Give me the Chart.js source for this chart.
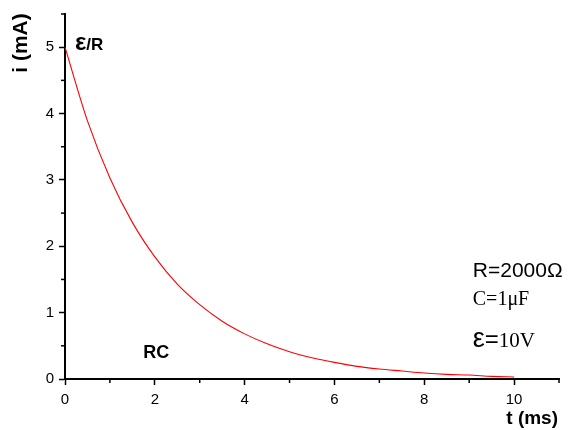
<!DOCTYPE html>
<html>
<head>
<meta charset="utf-8">
<script src="https://cdn.jsdelivr.net/npm/chart.js@4"></script>
<style>
  body { margin: 0; background: #fff; }
  canvas { display: block; }
</style>
</head>
<body>
<canvas id="chart" width="569" height="430"></canvas>
<script>
// time in ms, current in mA
const timeMs = [0, 0.5, 1, 1.5, 2, 2.5, 3, 3.5, 4, 4.5, 5, 5.5, 6, 6.5, 7, 7.5, 8, 8.5, 9, 9.5, 10];
const currentMa = [5.00, 3.89, 3.03, 2.36, 1.84, 1.43, 1.12, 0.87, 0.68, 0.53, 0.41, 0.32, 0.25, 0.19, 0.15, 0.12, 0.09, 0.07, 0.06, 0.04, 0.03];

const xTickLabels = ['0', '2', '4', '6', '8', '10'];
const yTickLabels = ['0', '1', '2', '3', '4', '5'];

const SANS = '"Liberation Sans", Arial, sans-serif';
const SERIF = '"Liberation Serif", "Times New Roman", serif';

// short ticks for the minor steps
const minorTicks = {
    id: 'minorTicks',
    afterDraw(chart) {
        const ctx = chart.ctx;
        const xs = chart.scales.x, ys = chart.scales.y;
        ctx.save();
        ctx.strokeStyle = '#000';
        ctx.lineWidth = 1.5;
        xs.ticks.forEach(t => {
            if (xTickLabels.includes(String(t.value))) return;
            const px = xs.getPixelForValue(t.value);
            ctx.beginPath();
            ctx.moveTo(px, ys.bottom);
            ctx.lineTo(px, ys.bottom + 4);
            ctx.stroke();
        });
        ys.ticks.forEach(t => {
            if (yTickLabels.includes(String(t.value))) return;
            const py = ys.getPixelForValue(t.value);
            ctx.beginPath();
            ctx.moveTo(xs.left, py);
            ctx.lineTo(xs.left - 4, py);
            ctx.stroke();
        });
        ctx.restore();
    }
};

// text pieces: [text, font]
function drawPieces(ctx, x, y, pieces) {
    let cx = x;
    pieces.forEach(p => {
        ctx.font = p[1];
        ctx.fillText(p[0], cx, y);
        cx += ctx.measureText(p[0]).width;
    });
}

const labels = {
    id: 'labels',
    afterDraw(chart) {
        const ctx = chart.ctx;
        const xs = chart.scales.x, ys = chart.scales.y;
        const X = v => xs.getPixelForValue(v);
        const Y = v => ys.getPixelForValue(v);
        ctx.save();
        ctx.fillStyle = '#000';
        ctx.textBaseline = 'alphabetic';

        ctx.textAlign = 'left';
        drawPieces(ctx, X(0.22), Y(4.96), [
            ['ε', 'bold 24px ' + SANS],
            ['/R', 'bold 17px ' + SANS]
        ]);

        ctx.textAlign = 'center';
        ctx.font = 'bold 18px ' + SANS;
        ctx.fillText('RC', X(2.03), Y(0.31));

        ctx.textAlign = 'left';
        drawPieces(ctx, X(9.08), Y(1.54), [['R=2000Ω', '21px ' + SANS]]);
        drawPieces(ctx, X(9.08), Y(1.11), [['C=1μF', '20px ' + SERIF]]);
        drawPieces(ctx, X(9.08), Y(0.48), [
            ['ε', '27px ' + SANS],
            ['=', '24px ' + SANS],
            ['10V', '21px ' + SERIF]
        ]);

        // axis titles
        ctx.textAlign = 'right';
        ctx.font = 'bold 19px ' + SANS;
        ctx.fillText('t (ms)', xs.right - 1, ys.bottom + 45);

        ctx.translate(27, 43);
        ctx.rotate(-Math.PI / 2);
        ctx.textAlign = 'center';
        ctx.font = 'bold 21px ' + SANS;
        ctx.fillText('i (mA)', 0, 0);
        ctx.restore();
    }
};

new Chart(document.getElementById('chart'), {
    type: 'line',
    data: {
        datasets: [{
            data: timeMs.map((t, i) => ({ x: t, y: currentMa[i] })),
            borderColor: '#ff0000',
            borderWidth: 1.1,
            pointRadius: 0,
            cubicInterpolationMode: 'monotone',
            fill: false
        }]
    },
    options: {
        responsive: false,
        animation: false,
        layout: { padding: { top: 12, right: 10, left: 0, bottom: 0 } },
        plugins: {
            legend: { display: false },
            tooltip: { enabled: false }
        },
        scales: {
            x: {
                type: 'linear',
                min: 0,
                max: 11,
                border: { color: '#000', width: 2 },
                grid: {
                    drawOnChartArea: false,
                    tickLength: 6,
                    tickWidth: 1.5,
                    tickColor: c => xTickLabels.includes(String(c.tick.value)) ? '#000' : 'rgba(0,0,0,0)'
                },
                ticks: {
                    stepSize: 1,
                    autoSkip: false,
                    maxRotation: 0,
                    padding: 6,
                    color: '#000',
                    font: { family: SANS, size: 15 },
                    callback: v => xTickLabels.includes(String(v)) ? String(v) : ''
                },
                afterFit: s => { s.height = 51; }
            },
            y: {
                type: 'linear',
                min: 0,
                max: 5.5,
                border: { color: '#000', width: 2 },
                grid: {
                    drawOnChartArea: false,
                    tickLength: 6,
                    tickWidth: 1.5,
                    tickColor: c => yTickLabels.includes(String(c.tick.value)) ? '#000' : 'rgba(0,0,0,0)'
                },
                ticks: {
                    stepSize: 0.5,
                    autoSkip: false,
                    padding: 5,
                    color: '#000',
                    font: { family: SANS, size: 15 },
                    callback: v => yTickLabels.includes(String(v)) ? String(v) : ''
                },
                afterFit: s => { s.width = 65; }
            }
        }
    },
    plugins: [minorTicks, labels]
});
</script>
</body>
</html>
